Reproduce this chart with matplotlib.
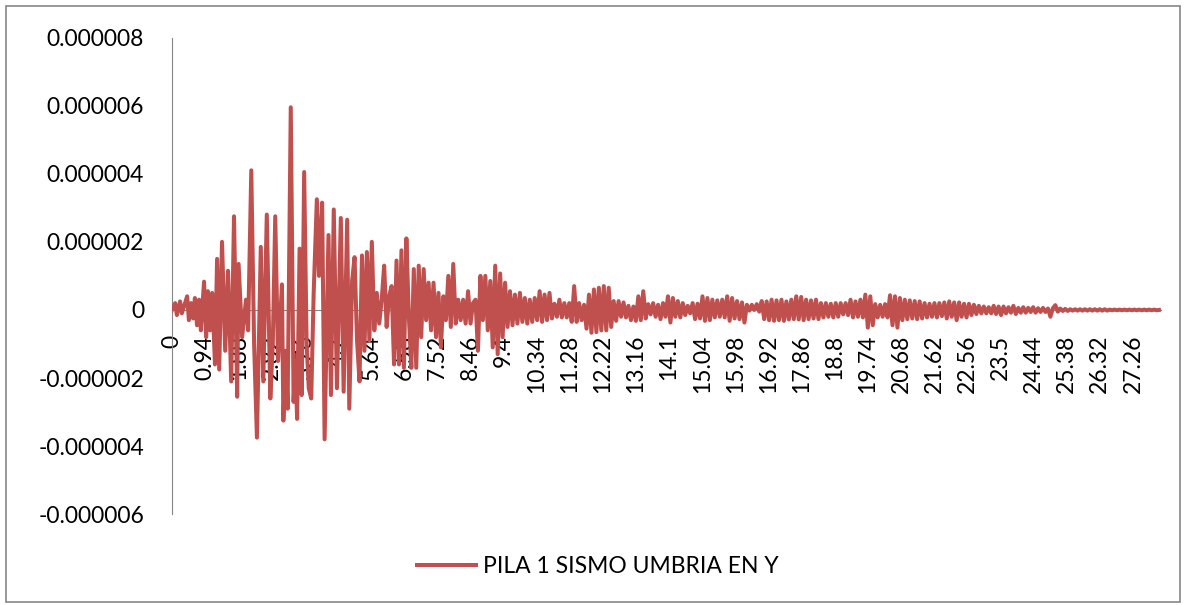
import matplotlib
matplotlib.use("Agg")
import matplotlib.pyplot as plt
from matplotlib.patches import Rectangle
import numpy as np

plt.rcParams['font.family'] = ['Lato', 'DejaVu Sans']

# strong-motion part: time (s) of each turning point and displacement in 1e-6 units
t_early = [
    0.00, 0.09, 0.14, 0.23, 0.28, 0.34, 0.43, 0.48, 0.54, 0.60, 0.65, 0.71, 0.77, 0.82,
    0.91, 0.97, 1.02, 1.08, 1.14, 1.22, 1.28, 1.34, 1.42, 1.51, 1.59, 1.68, 1.76, 1.85,
    1.89, 1.99, 2.10, 2.16, 2.25, 2.33, 2.41, 2.52, 2.59, 2.69, 2.79, 2.86, 2.93, 3.01,
    3.12, 3.16, 3.23, 3.28, 3.37, 3.45, 3.50, 3.55, 3.62, 3.68, 3.75, 3.82, 3.88, 3.95,
    4.02, 4.11, 4.17, 4.26, 4.33, 4.44, 4.51, 4.59, 4.68, 4.79, 4.87, 4.97, 5.03, 5.11,
]
u_early = [
    0, 0.2, -0.15, 0.25, -0.1, 0.1, 0.4, -0.3, 0.2, -0.25, 0.35, -0.45, 0.3, -0.6,
    0.83, -0.8, 0.55, -0.6, 0.5, -1.6, 1.5, -1.75, 2.0, -1.2, 1.15, -2.1, 2.75, -2.55,
    1.35, -0.8, 0.3, -0.6, 4.1, -1.0, -3.75, 1.85, -2.1, 2.8, -2.6, -1.0, 2.75, -1.5,
    0.75, -3.25, -1.2, -2.9, 5.95, -2.7, -1.5, -3.2, 1.8, -2.5, 4.05, -1.0, -2.3, -2.6,
    0.5, 3.25, 1.0, 3.15, -3.8, 2.2, -2.5, 2.95, -2.3, 2.7, -2.4, 2.65, -2.9, 0.85,
]

# rest of the record, one value every 0.07 s starting at 5.18 s (1e-6 units)
grid_start = 5.18
grid_step = 0.07
u_grid = [
    1.55, -0.9, -2.1, 1.6, -1.2, 1.7, -0.9, 2.0, -0.6, 0.5,
    -0.4, 0.3, 1.3, -0.5, 0.4, 0.7, -1.6, 1.45, -1.6, 1.75,
    -1.7, 2.1, -0.2, -1.7, 1.2, -1.7, 1.3, -0.8, 1.2, -0.3,
    0.8, -0.6, 0.8, -0.8, 0.5, -1.1, 0.4, -0.3, 1.0, -0.5,
    1.35, -0.4, 0.3, -0.3, 0.3, -0.4, 0.55, -0.4, 0.2, 0.3,
    -1.2, 1.0, -0.3, 1.0, -0.6, 0.85, -1.1, 1.3, -1.3, 1.07,
    -0.8,
    0.8, -0.5, 0.55, -0.45, 0.45, -0.4, 0.5, -0.35, 0.35, -0.4,
    0.3, -0.35, 0.35, -0.3, 0.55, -0.35, 0.45, -0.3, 0.5, -0.25,
    0.18, -0.2, 0.3, -0.22, 0.2, -0.22, 0.2, -0.35, 0.7, -0.35,
    0.2, -0.3, 0.15, -0.55, 0.45, -0.67, 0.6, -0.65, 0.65, -0.6,
    0.7, -0.6, 0.65, -0.5, 0.26, -0.32, 0.26, -0.2, 0.22, -0.22,
    0.12, -0.3, 0.1, -0.32, 0.4, -0.3, 0.55, -0.25, 0.17, -0.13,
    0.2, -0.2, 0.15, -0.27, 0.2, -0.2, 0.4, -0.37, 0.35, -0.2,
    0.26, -0.22, 0.2, -0.15, 0.12, -0.1, 0.2, -0.27, 0.18, -0.25,
    0.4, -0.32, 0.35, -0.3, 0.3, -0.22, 0.28, -0.2, 0.3, -0.22,
    0.4, -0.32, 0.35, -0.25, 0.26, -0.27, 0.22, -0.37, 0.15, -0.02,
    0.15, 0.0, 0.17, -0.05, 0.26, -0.27, 0.25, -0.3, 0.3, -0.32,
    0.28, -0.3, 0.3, -0.32, 0.25, -0.28, 0.3, -0.27, 0.4, -0.28,
    0.38, -0.3, 0.3, -0.27, 0.28, -0.25, 0.3, -0.27, 0.2, -0.22,
    0.2, -0.2, 0.18, -0.22, 0.2, -0.2, 0.2, -0.13, 0.2, -0.15,
    0.3, -0.22, 0.25, -0.2, 0.3, -0.22, 0.45, -0.52, 0.4, -0.45,
    0.17, -0.22, 0.15, -0.2, 0.17, -0.22, 0.43, -0.45, 0.4, -0.52,
    0.35, -0.3, 0.3, -0.27, 0.28, -0.25, 0.26, -0.27, 0.25, -0.25,
    0.2, -0.22, 0.18, -0.2, 0.2, -0.22, 0.2, -0.18, 0.22, -0.25,
    0.25, -0.2, 0.22, -0.3, 0.22, -0.2, 0.18, -0.22, 0.18, -0.15,
    0.15, -0.12, 0.12, -0.1, 0.1, -0.1, 0.08, -0.1, 0.12, -0.12,
    0.1, -0.15, 0.1, -0.1, 0.08, -0.08, 0.12, -0.12, 0.06, -0.08,
    0.08, -0.08, 0.06, -0.06, 0.08, -0.08, 0.05, -0.06, 0.06, -0.06,
    0.04, -0.2, 0.05, 0.14, -0.05, 0.04, -0.03, 0.03, -0.03, 0.02,
    -0.02, 0.02, -0.02, 0.02, -0.02, 0.02, -0.02, 0.02, -0.02, 0.02,
    -0.02, 0.02, -0.02, 0.02, -0.02, 0.01, -0.01, 0.01, -0.01, 0.01,
    -0.01, 0.01, -0.01, 0.01, -0.01, 0.01, -0.01, 0.01, -0.01, 0.01,
    -0.01, 0.01, -0.01, 0.01, -0.01, 0.0,
]

x_labels = ["0", "0.94", "1.88", "2.82", "3.76", "4.7", "5.64", "6.58", "7.52", "8.46",
            "9.4", "10.34", "11.28", "12.22", "13.16", "14.1", "15.04", "15.98", "16.92",
            "17.86", "18.8", "19.74", "20.68", "21.62", "22.56", "23.5", "24.44", "25.38",
            "26.32", "27.26"]
y_ticks = [-6e-6, -4e-6, -2e-6, 0, 2e-6, 4e-6, 6e-6, 8e-6]
y_labels = ["-0.000006", "-0.000004", "-0.000002", "0",
            "0.000002", "0.000004", "0.000006", "0.000008"]

series_name = "PILA 1 SISMO UMBRIA EN Y"
red = "#C0504D"
gray = "#868686"

t_grid = grid_start + grid_step * np.arange(len(u_grid))
t_all = np.concatenate([t_early, t_grid])
u_all = np.concatenate([u_early, u_grid]) * 1e-6

fig = plt.figure(figsize=(11.86, 6.05), dpi=100)
fig.patches.append(Rectangle((6 / 1186, 3 / 605), 1174 / 1186, 596 / 605,
                             transform=fig.transFigure, fill=False,
                             edgecolor=gray, linewidth=1.2))

ax = fig.add_axes([0.145, 0.150, 0.834, 0.788])
for side in ["top", "right"]:
    ax.spines[side].set_visible(False)
ax.spines["left"].set_color(gray)
ax.spines["bottom"].set_color(gray)
ax.spines["bottom"].set_position(("data", 0))

# trace sits above the zero axis line and the rotated labels, as in Excel
ax.plot(t_all, u_all, color=red, linewidth=2.9, zorder=3,
        solid_joinstyle="round", label=series_name)

ax.set_xlim(0, 28.06)
ax.set_ylim(-6e-6, 8e-6)

ax.set_yticks(y_ticks)
ax.set_yticklabels(y_labels)
ax.set_xticks([float(s) for s in x_labels])
ax.set_xticklabels(x_labels)
ax.tick_params(axis="both", length=0, labelsize=16.5, colors="black")
ax.tick_params(axis="y", pad=20)
ax.tick_params(axis="x", pad=18, labelrotation=90)
for lab in ax.get_xticklabels():
    lab.set_va("top")
    lab.set_ha("center")

fig.legend(loc="center", bbox_to_anchor=(0.504, 0.063), frameon=False,
           fontsize=16.5, handlelength=2.6, handletextpad=0.3)

fig.savefig("out.png", dpi=100)
